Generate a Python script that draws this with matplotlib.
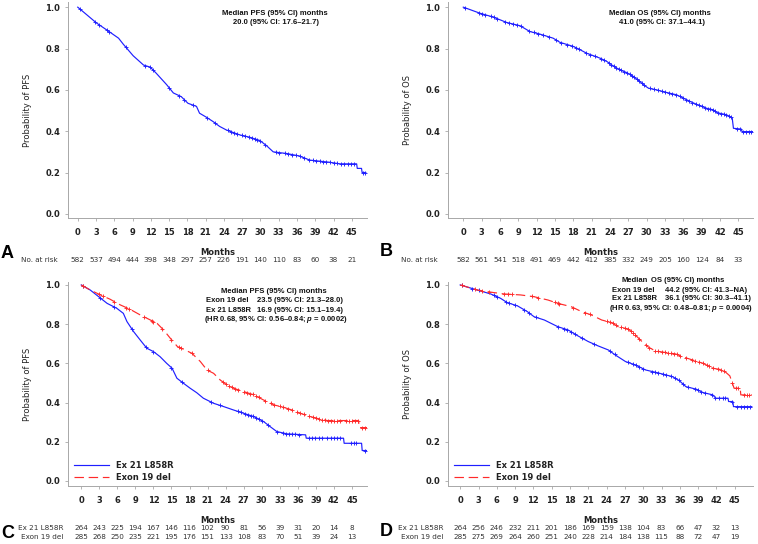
import matplotlib.pyplot as plt
import numpy as np

plt.rcParams['font.family'] = 'DejaVu Sans'
plt.rcParams['mathtext.fontset'] = 'custom'
plt.rcParams['mathtext.it'] = 'Liberation Sans:bold:italic'
plt.rcParams['mathtext.rm'] = 'Liberation Sans:bold'

months = np.arange(0, 46, 3)

# A: PFS, all patients (curve)
pfs_t = np.array([0, 3.1, 4.75, 6.7, 7.5, 9.1, 10.8, 11.9, 12.9, 14.6, 15.7, 17.0, 18.1,
                  19.5, 20.0, 21.1, 22.2, 23.3, 24.4, 25.5, 26.6, 28.2, 29.9, 31.0, 32.1,
                  34.3, 36.4, 38.1, 39.7, 41.3, 43.0, 45.8, 45.9, 46.6, 46.7, 47.3])
pfs_s = np.array([1.0, 0.923, 0.89, 0.85, 0.82, 0.765, 0.72, 0.71, 0.68, 0.625, 0.585, 0.567,
                  0.535, 0.52, 0.487, 0.468, 0.447, 0.423, 0.406, 0.394, 0.382, 0.371, 0.355,
                  0.33, 0.30, 0.292, 0.28, 0.26, 0.255, 0.25, 0.242, 0.242, 0.22, 0.22, 0.20,
                  0.20])
pfs_cens = [0.3, 2.8, 3.5, 4.8, 5.2, 7.9, 11.1, 11.8, 12.4, 15.0, 16.6, 17.5, 18.9, 21.3,
            22.5, 24.6, 25.1, 25.6, 26.2, 27.0, 27.5, 28.1, 28.6, 29.1, 29.5, 30.0, 30.8,
            32.5, 33.1, 34.0, 34.6, 35.2, 35.8, 36.5, 37.2, 38.0, 38.6, 39.2, 39.8, 40.3,
            40.8, 41.4, 42.0, 42.5, 43.2, 43.8, 44.4, 44.9, 45.4, 46.9, 47.2]
pfs_risk = [582, 537, 494, 444, 398, 348, 297, 257, 226, 191, 140, 110, 83, 60, 38, 21]

# B: OS, all patients
os_t = np.array([0, 2.7, 4.9, 7.1, 9.3, 10.9, 12.5, 14.7, 15.8, 18.0, 19.1, 20.2, 22.4,
                 23.5, 24.5, 25.6, 26.7, 27.8, 28.9, 29.5, 30.3, 31.6, 33.3, 34.9, 36.0,
                 37.1, 38.7, 39.8, 40.9, 41.5, 43.1, 44.0, 44.2, 45.5, 45.6, 47.5])
os_s = np.array([1.0, 0.971, 0.952, 0.926, 0.91, 0.882, 0.87, 0.85, 0.83, 0.81, 0.794, 0.777,
                 0.753, 0.737, 0.716, 0.697, 0.684, 0.665, 0.64, 0.624, 0.608, 0.6, 0.587,
                 0.576, 0.56, 0.544, 0.523, 0.511, 0.503, 0.49, 0.479, 0.463, 0.414, 0.41,
                 0.398, 0.398])
os_cens = [0.3, 2.5, 3.0, 3.5, 4.5, 5.0, 5.5, 6.8, 7.5, 8.2, 8.8, 9.5, 10.8, 11.5, 12.2,
           13.0, 14.0, 15.2, 16.0, 17.0, 17.8, 18.5, 19.0, 20.0, 20.8, 21.5, 22.5, 23.0,
           23.8, 24.2, 24.6, 25.0, 25.4, 25.8, 26.3, 26.8, 27.2, 27.6, 28.0, 28.4, 28.8,
           29.2, 29.6, 30.5, 31.2, 31.8, 32.5, 33.0, 33.6, 34.2, 34.8, 35.4, 36.0, 36.5,
           37.0, 37.5, 38.0, 38.5, 39.0, 39.5, 40.0, 40.4, 40.8, 41.2, 41.7, 42.2, 42.6,
           43.0, 43.4, 43.8, 44.8, 45.2, 45.7, 46.2, 46.7, 47.1]
os_risk = [582, 561, 541, 518, 491, 469, 442, 412, 385, 332, 249, 205, 160, 124, 84, 33]

# C: PFS by mutation
pfs_del_t = np.array([0, 1.5, 3.2, 4.8, 6.5, 8.1, 9.8, 11.5, 12.6, 13.7, 14.8, 16.0, 17.0,
                      18.4, 19.8, 20.9, 22.0, 23.1, 24.2, 25.3, 27.0, 28.7, 30.3, 32.0, 33.6,
                      35.3, 36.4, 38.1, 39.7, 40.9, 46.1, 46.2, 47.5])
pfs_del_s = np.array([1.0, 0.974, 0.949, 0.927, 0.898, 0.876, 0.847, 0.821, 0.804, 0.77,
                      0.728, 0.685, 0.672, 0.651, 0.609, 0.566, 0.549, 0.515, 0.49, 0.473,
                      0.456, 0.439, 0.413, 0.388, 0.376, 0.359, 0.345, 0.328, 0.315, 0.308,
                      0.308, 0.272, 0.272])
pfs_del_cens = [0.3, 3.0, 3.6, 5.5, 7.5, 8.0, 10.5, 11.8, 12.0, 13.5, 15.0, 16.2, 16.5,
                18.4, 21.0, 23.5, 24.0, 24.5, 25.0, 25.5, 26.0, 27.0, 27.5, 28.0, 28.5,
                29.0, 29.5, 30.5, 31.5, 32.0, 33.0, 33.5, 34.3, 35.0, 35.8, 36.4, 37.0,
                37.8, 38.5, 39.0, 39.5, 40.0, 40.5, 41.0, 41.5, 42.0, 42.5, 43.0, 44.0,
                44.5, 45.0, 45.5, 46.0, 46.7, 47.1]
pfs_l858_t = np.array([0, 1.5, 2.9, 4.3, 5.9, 7.0, 7.6, 8.7, 9.8, 10.9, 12.0, 13.1, 14.2,
                       15.1, 15.9, 17.0, 18.1, 19.2, 20.3, 22.0, 23.7, 25.3, 27.0, 28.7,
                       30.3, 31.4, 32.5, 34.2, 37.3, 37.4, 43.6, 43.7, 46.6, 46.7, 47.5])
pfs_l858_s = np.array([1.0, 0.974, 0.94, 0.906, 0.881, 0.855, 0.813, 0.762, 0.719, 0.677,
                       0.66, 0.634, 0.6, 0.575, 0.524, 0.498, 0.473, 0.45, 0.422, 0.396,
                       0.379, 0.362, 0.345, 0.328, 0.303, 0.277, 0.252, 0.24, 0.235, 0.218,
                       0.218, 0.192, 0.192, 0.155, 0.155])
pfs_l858_cens = [0.3, 3.2, 5.4, 8.4, 10.8, 12.0, 15.0, 16.8, 21.5, 23.0, 26.0, 26.5, 27.3,
                 27.8, 28.2, 28.5, 29.0, 29.5, 30.0, 31.0, 32.5, 33.5, 34.0, 34.5, 35.0,
                 35.5, 36.2, 37.8, 38.3, 38.8, 39.5, 40.0, 40.8, 41.5, 42.0, 42.5, 43.0,
                 44.8, 45.3, 45.7, 47.1]
pfs_risk_l858 = [264, 243, 225, 194, 167, 146, 116, 102, 90, 81, 56, 39, 31, 20, 14, 8]
pfs_risk_del = [285, 268, 250, 235, 221, 195, 176, 151, 133, 108, 83, 70, 51, 39, 24, 13]

# D: OS by mutation
os_del_t = np.array([0, 2.8, 5.5, 7.2, 9.9, 12.1, 14.4, 16.0, 18.2, 19.9, 21.5, 23.2, 24.8,
                     25.9, 27.6, 28.7, 29.8, 30.9, 32.0, 33.7, 35.3, 36.4, 38.1, 39.8, 41.4,
                     43.1, 44.2, 44.9, 45.9, 46.0, 47.8])
os_del_s = np.array([1.0, 0.974, 0.961, 0.954, 0.949, 0.94, 0.923, 0.906, 0.889, 0.864,
                     0.847, 0.821, 0.808, 0.787, 0.774, 0.745, 0.711, 0.682, 0.663, 0.655,
                     0.648, 0.634, 0.617, 0.6, 0.575, 0.566, 0.536, 0.473, 0.473, 0.439,
                     0.439])
os_del_cens = [0.3, 2.5, 3.5, 4.8, 7.2, 7.8, 8.5, 11.8, 12.8, 15.5, 16.0, 16.2, 18.5, 20.5,
               21.2, 24.0, 24.5, 25.0, 25.5, 26.3, 27.0, 27.5, 28.0, 28.3, 28.7, 29.3, 30.5,
               31.0, 32.0, 32.5, 33.0, 33.6, 34.0, 34.5, 35.0, 35.5, 36.0, 37.0, 38.0, 38.5,
               39.2, 39.8, 40.4, 40.8, 41.5, 42.2, 42.7, 43.3, 44.6, 45.2, 45.6, 46.5, 47.0,
               47.4]
os_l858_t = np.array([0, 2.8, 5.0, 6.6, 7.7, 9.4, 11.0, 12.1, 13.8, 14.9, 16.0, 17.7, 19.3,
                      21.0, 22.6, 24.3, 25.4, 27.1, 28.7, 30.4, 31.5, 33.1, 34.8, 35.9, 37.0,
                      38.7, 39.8, 41.4, 41.9, 43.9, 44.0, 44.7, 44.8, 47.8])
os_l858_s = np.array([1.0, 0.974, 0.954, 0.932, 0.91, 0.893, 0.864, 0.838, 0.821, 0.804,
                      0.787, 0.77, 0.74, 0.711, 0.689, 0.668, 0.643, 0.609, 0.592, 0.566,
                      0.558, 0.546, 0.532, 0.512, 0.481, 0.468, 0.451, 0.439, 0.422, 0.422,
                      0.405, 0.405, 0.379, 0.379])
os_l858_cens = [0.3, 2.0, 3.0, 5.5, 6.0, 7.5, 8.0, 9.0, 10.5, 11.2, 12.5, 16.0, 17.0, 17.5,
                18.2, 18.8, 20.0, 22.0, 24.5, 25.3, 27.5, 28.3, 28.8, 29.3, 30.0, 31.5, 32.0,
                32.5, 33.2, 33.8, 34.5, 35.2, 35.8, 36.5, 37.3, 38.5, 39.0, 39.5, 40.2, 41.2,
                41.8, 42.5, 43.0, 43.4, 44.5, 45.3, 46.0, 46.5, 47.0, 47.5]
os_risk_l858 = [264, 256, 246, 232, 211, 201, 186, 169, 159, 138, 104, 83, 66, 47, 32, 13]
os_risk_del = [285, 275, 269, 264, 260, 251, 240, 228, 214, 184, 138, 115, 88, 72, 47, 19]

BLUE = '#1f1fff'
RED = '#ff2a2a'
W, H = 758, 544


def fx(px):
    return px / W


def fy(py):
    return 1 - py / H


def km(ax, t, s, cens, color, dashed=False, label=None):
    line, = ax.plot(t, s, color=color, lw=0.85, label=label)
    if dashed:
        line.set_dashes((8, 4))
    # censor ticks sit on the traced curve
    ax.plot(cens, np.interp(cens, t, s), '+', color=color, ms=3.5, mew=0.65)


def setup(ax, ylabel, xlim, ylim):
    ax.set_xlim(xlim)
    ax.set_ylim(ylim)
    ax.set_xticks(months)
    ax.set_yticks([0, 0.2, 0.4, 0.6, 0.8, 1.0])
    ax.yaxis.set_major_formatter('{x:.1f}')
    for sp in ['top', 'right']:
        ax.spines[sp].set_visible(False)
    for sp in ['left', 'bottom']:
        ax.spines[sp].set_color('#a8a8a8')
        ax.spines[sp].set_linewidth(0.7)
    ax.tick_params(length=2.5, width=0.6, color='#a8a8a8', labelsize=6, labelcolor='#222222')
    ax.tick_params(axis='x', pad=4.5)
    ax.tick_params(axis='y', pad=3)
    for lbl in ax.get_xticklabels() + ax.get_yticklabels():
        lbl.set_fontweight('bold')
    ax.set_xlabel('Months', fontsize=6, fontweight='bold', color='#222222', labelpad=8)
    ax.set_ylabel(ylabel, fontsize=6, color='#222222', labelpad=10)


def risk_row(ax, values, py):
    for m, v in zip(months, values):
        ax.annotate(str(v), xy=(m, fy(py)), xycoords=('data', 'figure fraction'),
                    ha='center', va='center', fontsize=5.2, color='#333333')


ann = dict(fontsize=5.5, fontweight='bold', family='Liberation Sans', color='#111111',
           va='center')
small = dict(fontsize=5.2, color='#333333', va='center')
letter = dict(fontsize=13, fontweight='bold', family='Liberation Sans', va='center')

fig = plt.figure(figsize=(7.58, 5.44), dpi=100)
axA = fig.add_axes([fx(68), fy(218), fx(299), 216 / H])
axB = fig.add_axes([fx(448), fy(218), fx(305), 216 / H])
axC = fig.add_axes([fx(68), fy(486), fx(299), 204 / H])
axD = fig.add_axes([fx(448), fy(486), fx(305), 204 / H])

# A
km(axA, pfs_t, pfs_s, pfs_cens, BLUE)
setup(axA, 'Probability of PFS', (-1.6, 47.5), (-0.02, 1.025))
risk_row(axA, pfs_risk, 260)
fig.text(fx(21), fy(260), 'No. at risk', **small)
fig.text(fx(275), fy(13.3), 'Median PFS (95% CI) months', ha='center', **ann)
fig.text(fx(276), fy(22.7), '20.0 (95% CI: 17.6\u201321.7)', ha='center', **ann)
fig.text(fx(1), fy(254), 'A', **letter)

# B
km(axB, os_t, os_s, os_cens, BLUE)
setup(axB, 'Probability of OS', (-2.5, 47.4), (-0.02, 1.025))
risk_row(axB, os_risk, 260)
fig.text(fx(401), fy(260), 'No. at risk', **small)
fig.text(fx(660), fy(13.3), 'Median OS (95% CI) months', ha='center', **ann)
fig.text(fx(662), fy(22.7), '41.0 (95% CI: 37.1\u201344.1)', ha='center', **ann)
fig.text(fx(380), fy(252), 'B', **letter)

# C
km(axC, pfs_l858_t, pfs_l858_s, pfs_l858_cens, BLUE, label='Ex 21 L858R')
km(axC, pfs_del_t, pfs_del_s, pfs_del_cens, RED, dashed=True, label='Exon 19 del')
setup(axC, 'Probability of PFS', (-2.2, 47.5), (-0.026, 1.015))
risk_row(axC, pfs_risk_l858, 528)
risk_row(axC, pfs_risk_del, 537)
fig.text(fx(63), fy(528), 'Ex 21 L858R', ha='right', **small)
fig.text(fx(63), fy(537), 'Exon 19 del', ha='right', **small)
fig.text(fx(274), fy(291.7), 'Median PFS (95% CI) months', ha='center', **ann)
fig.text(fx(206), fy(301), 'Exon 19 del', ha='left', **ann)
fig.text(fx(257), fy(301), '23.5 (95% CI: 21.3\u201328.0)', ha='left', **ann)
fig.text(fx(206), fy(310), 'Ex 21 L858R', ha='left', **ann)
fig.text(fx(257), fy(310), '16.9 (95% CI: 15.1\u201319.4)', ha='left', **ann)
fig.text(fx(204), fy(319.3), '(HR 0.68, 95% CI: 0.56\u20130.84; $p$ = 0.0002)', ha='left', **ann)
fig.text(fx(1), fy(533), 'C', **letter)

# D
km(axD, os_l858_t, os_l858_s, os_l858_cens, BLUE, label='Ex 21 L858R')
km(axD, os_del_t, os_del_s, os_del_cens, RED, dashed=True, label='Exon 19 del')
setup(axD, 'Probability of OS', (-2.0, 48.0), (-0.026, 1.015))
risk_row(axD, os_risk_l858, 528)
risk_row(axD, os_risk_del, 537)
fig.text(fx(443), fy(528), 'Ex 21 L858R', ha='right', **small)
fig.text(fx(443), fy(537), 'Exon 19 del', ha='right', **small)
fig.text(fx(621), fy(281), 'Median', ha='left', **ann)
fig.text(fx(651), fy(281), 'OS (95% CI) months', ha='left', **ann)
fig.text(fx(612), fy(290), 'Exon 19 del', ha='left', **ann)
fig.text(fx(665), fy(290), '44.2 (95% CI: 41.3\u2013NA)', ha='left', **ann)
fig.text(fx(612), fy(298.3), 'Ex 21 L858R', ha='left', **ann)
fig.text(fx(665), fy(298.3), '36.1 (95% CI: 30.3\u201341.1)', ha='left', **ann)
fig.text(fx(609), fy(308.3), '(HR 0.63, 95% CI: 0.48\u20130.81; $p$ = 0.0004)', ha='left', **ann)
fig.text(fx(380), fy(532), 'D', **letter)

for ax in (axC, axD):
    leg = ax.legend(loc='lower left', bbox_to_anchor=(0.0, -0.01), frameon=False,
                    prop={'size': 6, 'weight': 'bold'}, handlelength=4.2,
                    handletextpad=0.8, labelspacing=0.35, borderaxespad=0.3)
    for txt in leg.get_texts():
        txt.set_color('#222222')

fig.savefig('out.png', dpi=100)
